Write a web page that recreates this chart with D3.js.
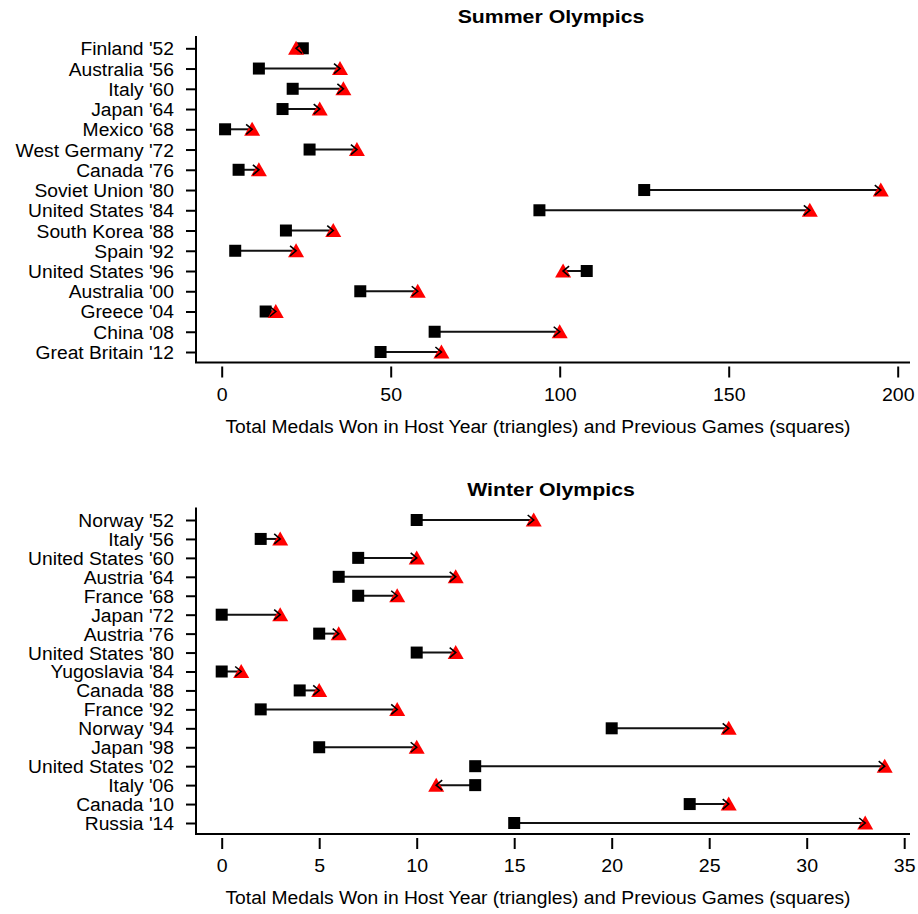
<!DOCTYPE html>
<html><head><meta charset="utf-8">
<script src="https://cdn.jsdelivr.net/npm/d3@7"></script>
<style>body{margin:0;background:#fff}svg{display:block}text{font-family:"Liberation Sans",Arial,sans-serif;fill:#000}</style>
</head><body><svg id="c" width="918" height="914"></svg>
<script>
const summerCountries = ["Finland '52","Australia '56","Italy '60","Japan '64","Mexico '68","West Germany '72","Canada '76","Soviet Union '80","United States '84","South Korea '88","Spain '92","United States '96","Australia '00","Greece '04","China '08","Great Britain '12"];
const summerPrev = [24,11,21,18,1,26,5,125,94,19,4,108,41,13,63,47];
const summerHost = [22,35,36,29,9,40,11,195,174,33,22,101,58,16,100,65];
const summerTicks = [0,50,100,150,200];

const winterCountries = ["Norway '52","Italy '56","United States '60","Austria '64","France '68","Japan '72","Austria '76","United States '80","Yugoslavia '84","Canada '88","France '92","Norway '94","Japan '98","United States '02","Italy '06","Canada '10","Russia '14"];
const winterPrev = [10,2,7,6,7,0,5,10,0,4,2,20,5,13,13,24,15];
const winterHost = [16,3,10,12,9,3,6,12,1,5,9,26,10,34,11,26,33];
const winterTicks = [0,5,10,15,20,25,30,35];

const svg = d3.select("#c");
const axisTitle = "Total Medals Won in Host Year (triangles) and Previous Games (squares)";

function stretch(sel, sx){
  sel.each(function(){
    const t = d3.select(this);
    const x = +t.attr("x")||0, y = +t.attr("y")||0;
    t.attr("x",0).attr("y",0).attr("transform",`translate(${x},${y}) scale(${sx},1)`);
  });
}

function panel(cfg){
  const g = svg.append("g");
  const x = d3.scaleLinear().domain(cfg.xDomain).range([221.7, cfg.xMaxPx]);
  const y = d3.scalePoint().domain(cfg.countries).range([cfg.yTop, cfg.yBot]);
  // title
  const tt = g.append("text").attr("x",551).attr("y",cfg.titleY).attr("text-anchor","middle")
   .style("font-weight","bold").style("font-size","19px").text(cfg.title);
  stretch(tt, 1.12);
  // axis lines
  g.append("line").attr("x1",196).attr("x2",196).attr("y1",cfg.axTop).attr("y2",cfg.axBot).attr("stroke","#000").attr("stroke-width",2);
  g.append("line").attr("x1",195).attr("x2",910).attr("y1",cfg.axBot).attr("y2",cfg.axBot).attr("stroke","#000").attr("stroke-width",2);
  // y axis ticks/labels
  const ya = g.append("g").attr("transform","translate(195,0)")
    .call(d3.axisLeft(y).tickSize(9).tickPadding(12));
  ya.select(".domain").remove();
  ya.selectAll(".tick line").attr("stroke","#000").attr("stroke-width",2);
  ya.selectAll(".tick text").style("font-size","18px").attr("font-family",null).attr("dy","0.36em");
  stretch(ya.selectAll(".tick text"), 1.07);
  // x axis
  const xa = g.append("g").attr("transform",`translate(0,${cfg.axBot+4})`)
    .call(d3.axisBottom(x).tickValues(cfg.ticks).tickSize(11).tickPadding(10));
  xa.select(".domain").remove();
  xa.selectAll(".tick line").attr("stroke","#000").attr("stroke-width",2);
  xa.selectAll(".tick text").style("font-size","19px").attr("font-family",null);
  stretch(xa.selectAll(".tick text"), 1.03);
  const at = g.append("text").attr("x",538).attr("y",cfg.axBot+70).attr("text-anchor","middle")
   .style("font-size","19px").text(axisTitle);
  stretch(at, 1.015);

  const data = cfg.countries.map((c,i)=>({c, p:cfg.prev[i], h:cfg.host[i]}));
  // lines
  g.selectAll(".seg").data(data).enter().append("line")
   .attr("x1",d=>x(d.p)).attr("x2",d=>x(d.h)).attr("y1",d=>y(d.c)).attr("y2",d=>y(d.c))
   .attr("stroke","#111").attr("stroke-width",2);
  // squares
  g.selectAll(".sq").data(data).enter().append("rect")
   .attr("x",d=>x(d.p)-6).attr("y",d=>y(d.c)-6).attr("width",12).attr("height",12).attr("fill","#000");
  // triangles
  g.selectAll(".tri").data(data).enter().append("path")
   .attr("d",d=>{const cx=x(d.h), cy=y(d.c); return `M${cx-8},${cy+6.5}L${cx+8},${cy+6.5}L${cx},${cy-7.5}Z`;})
   .attr("fill","#ff0000");
  // arrowheads
  g.selectAll(".ah").data(data).enter().append("path")
   .attr("d",d=>{const cx=x(d.h), cy=y(d.c); const s = d.h>=d.p?1:-1;
      return `M${cx-6*s},${cy-5}L${cx},${cy}L${cx-6*s},${cy+5}`;})
   .attr("fill","none").attr("stroke","#000").attr("stroke-width",1.6);
}

panel({title:"Summer Olympics", titleY:23, countries:summerCountries, prev:summerPrev, host:summerHost,
  xDomain:[0,200], xMaxPx:897.7, ticks:summerTicks, yTop:48.3, yBot:352, axTop:36, axBot:362.5});
panel({title:"Winter Olympics", titleY:496, countries:winterCountries, prev:winterPrev, host:winterHost,
  xDomain:[0,35], xMaxPx:904.2, ticks:winterTicks, yTop:520, yBot:823, axTop:507.5, axBot:834});
</script></body></html>
